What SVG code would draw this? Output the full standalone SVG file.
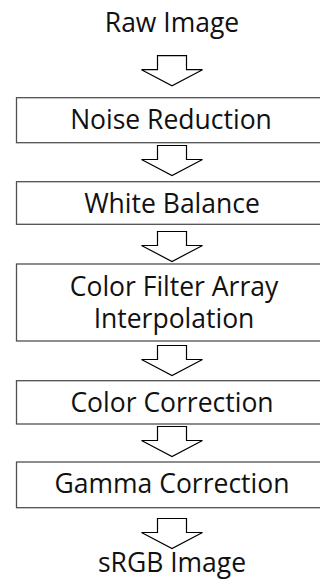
<svg xmlns="http://www.w3.org/2000/svg" width="320" height="582" viewBox="0 0 320 582">
<style>
.box{fill:#fff;stroke:#505050;stroke-width:1.3}
.arr{fill:#fff;stroke:#000;stroke-width:1.2;stroke-linejoin:miter}
text{font-family:"Open Sans","Noto Sans","DejaVu Sans",sans-serif;font-size:26.5px;fill:#111;text-anchor:middle}
</style>
<defs>
<path id="arrow" class="arr" d="M-14.5,0 H14.5 V14 H30.5 L0,30 L-30.5,14 H-14.5 Z"/>
</defs>
<rect width="320" height="582" fill="#fff"/>
<g id="connectors">
<use href="#arrow" x="172" y="55.7"/>
<use href="#arrow" x="172" y="145.5"/>
<use href="#arrow" x="172" y="231.5"/>
<use href="#arrow" x="172" y="345.5"/>
<use href="#arrow" x="172" y="426.5"/>
<use href="#arrow" x="172" y="518.5"/>
</g>
<g id="raw"><text x="172" y="31.7">Raw Image</text></g>
<g id="noise"><rect class="box" x="16.5" y="97.7" width="320" height="45"/><text x="171" y="129.3">Noise Reduction</text></g>
<g id="wb"><rect class="box" x="16.5" y="181.7" width="320" height="42.6"/><text x="172" y="212.7">White Balance</text></g>
<g id="cfa"><rect class="box" x="16.5" y="264" width="320" height="77"/><text x="174" y="295.7">Color Filter Array</text><text x="174" y="327.7">Interpolation</text></g>
<g id="cc"><rect class="box" x="16.5" y="380.7" width="320" height="43.3"/><text x="172" y="411.7">Color Correction</text></g>
<g id="gamma"><rect class="box" x="16.5" y="462" width="320" height="45.7"/><text x="172" y="493.3">Gamma Correction</text></g>
<g id="srgb"><text x="172" y="571.7">sRGB Image</text></g>
</svg>
